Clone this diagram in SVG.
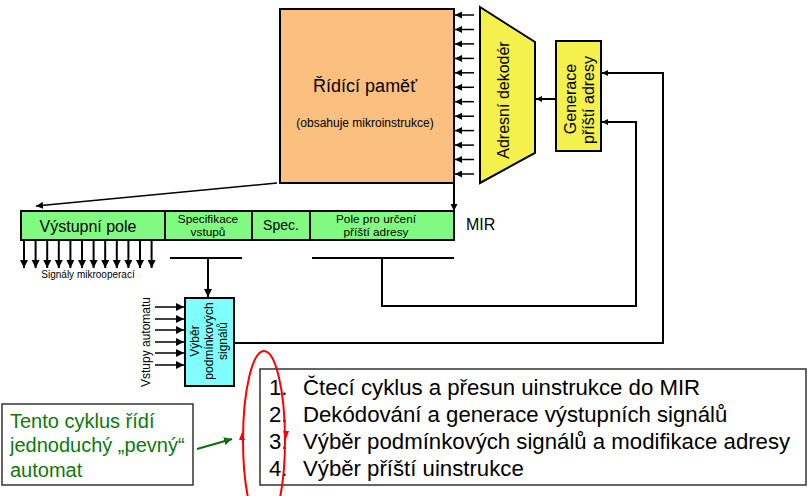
<svg xmlns="http://www.w3.org/2000/svg" width="812" height="496" viewBox="0 0 812 496">
<defs>
<style>
text{font-family:"Liberation Sans",Arial,sans-serif;fill:#000}
.box{stroke:#000;stroke-width:2}
.ln{stroke:#000;stroke-width:2;fill:none}
.th{stroke:#000;stroke-width:1.5;fill:none}
.list{font-size:22.2px}
.grn{font-size:20px;fill:#0a7a0a}
</style>
<marker id="ah" viewBox="0 0 10 10" refX="10" refY="5" markerWidth="7" markerHeight="7" markerUnits="userSpaceOnUse" orient="auto"><path d="M0,0L10,5L0,10z" fill="#000"/></marker>
<marker id="ahL" viewBox="0 0 10 10" refX="10" refY="5" markerWidth="8" markerHeight="8" markerUnits="userSpaceOnUse" orient="auto"><path d="M0,0L10,5L0,10z" fill="#000"/></marker>
<marker id="ahS" viewBox="0 0 10 10" refX="10" refY="5" markerWidth="6" markerHeight="6" markerUnits="userSpaceOnUse" orient="auto"><path d="M0,0L10,5L0,10z" fill="#000"/></marker>
<marker id="ahG" viewBox="0 0 10 10" refX="10" refY="5" markerWidth="8" markerHeight="8" markerUnits="userSpaceOnUse" orient="auto"><path d="M0,0L10,5L0,10z" fill="#0a6e0a"/></marker>
</defs>
<rect width="812" height="496" fill="#fff"/>

<g id="ridici-pamet">
<rect x="280" y="9" width="174" height="174" fill="#FBBF7F" class="box"/>
<text x="365" y="92" font-size="18" text-anchor="middle">Řídící paměť</text>
<text x="365" y="127" font-size="12" text-anchor="middle">(obsahuje mikroinstrukce)</text>
</g>

<g id="adresni-dekoder">
<polygon points="480,7 535,42 535,153 480,183" fill="#F4F04C" class="box"/>
<text transform="translate(509,100) rotate(-90)" font-size="16" text-anchor="middle">Adresní dekodér</text>
</g>

<g id="generace">
<rect x="556" y="41" width="45" height="110" fill="#F4F04C" class="box"/>
<text transform="translate(576,99) rotate(-90)" font-size="16" text-anchor="middle">Generace</text>
<text transform="translate(594,100) rotate(-90)" font-size="16" text-anchor="middle">příští adresy</text>
</g>

<g id="mir">
<rect x="21" y="211" width="144" height="29" fill="#80FA80" class="box"/>
<rect x="165" y="211" width="87" height="29" fill="#80FA80" class="box"/>
<rect x="252" y="211" width="58" height="29" fill="#80FA80" class="box"/>
<rect x="310" y="211" width="144" height="29" fill="#80FA80" class="box"/>
<text x="88" y="232" font-size="16" text-anchor="middle">Výstupní pole</text>
<text x="208" y="222.5" font-size="11.8" text-anchor="middle">Specifikace</text>
<text x="208" y="235.5" font-size="11.8" text-anchor="middle">vstupů</text>
<text x="281" y="230" font-size="14" text-anchor="middle">Spec.</text>
<text x="376" y="222.5" font-size="11.8" text-anchor="middle">Pole pro určení</text>
<text x="376" y="235.5" font-size="11.8" text-anchor="middle">příští adresy</text>
<text x="466" y="230" font-size="16">MIR</text>
<text x="88" y="278" font-size="10" text-anchor="middle">Signály mikrooperací</text>
</g>

<g id="vyber">
<rect x="185" y="298" width="49" height="88" fill="#80FFFF" class="box"/>
<text transform="translate(199,341) rotate(-90)" font-size="12" text-anchor="middle">Výběr</text>
<text transform="translate(213,341) rotate(-90)" font-size="12" text-anchor="middle">podmínkových</text>
<text transform="translate(227,341) rotate(-90)" font-size="12" text-anchor="middle">signálů</text>
<text transform="translate(150,342) rotate(-90)" font-size="12" text-anchor="middle">Vstupy automatu</text>
</g>

<g id="seznam">
<rect x="260" y="369" width="546" height="116" fill="#fff" stroke="#333" stroke-width="1.5"/>
<text class="list" x="269" y="395">1.</text>
<text class="list" x="303" y="395">Čtecí cyklus a přesun uinstrukce do MIR</text>
<text class="list" x="269" y="422">2.</text>
<text class="list" x="303" y="422">Dekódování a generace výstupních signálů</text>
<text class="list" x="269" y="449">3.</text>
<text class="list" x="303" y="449">Výběr podmínkových signálů a modifikace adresy</text>
<text class="list" x="269" y="476">4.</text>
<text class="list" x="303" y="476">Výběr příští uinstrukce</text>
</g>

<g id="poznamka">
<rect x="2" y="404" width="191" height="81" fill="#fff" stroke="#333" stroke-width="1.5"/>
<text class="grn" x="10" y="427.5">Tento cyklus řídí</text>
<text class="grn" x="10" y="452">jednoduchý „pevný“</text>
<text class="grn" x="10" y="476.5">automat</text>
</g>

<g id="cyklus">
<ellipse cx="264" cy="440" rx="21" ry="89" fill="none" stroke="#f00" stroke-width="2"/>
<polygon points="242,432 239,440 245,440" fill="#f00"/>
<polygon points="286,439 283,431 289,431" fill="#f00"/>
</g>

<g id="connectors">
<g class="th" marker-end="url(#ah)">
<line x1="474" y1="15" x2="455" y2="15"/>
<line x1="474" y1="29.5" x2="455" y2="29.5"/>
<line x1="474" y1="43.9" x2="455" y2="43.9"/>
<line x1="474" y1="58.4" x2="455" y2="58.4"/>
<line x1="474" y1="72.8" x2="455" y2="72.8"/>
<line x1="474" y1="87.3" x2="455" y2="87.3"/>
<line x1="474" y1="101.7" x2="455" y2="101.7"/>
<line x1="474" y1="116.2" x2="455" y2="116.2"/>
<line x1="474" y1="130.6" x2="455" y2="130.6"/>
<line x1="474" y1="145.1" x2="455" y2="145.1"/>
<line x1="474" y1="159.5" x2="455" y2="159.5"/>
<line x1="474" y1="174" x2="455" y2="174"/>
</g>
<line class="ln" x1="556" y1="99" x2="536" y2="99" marker-end="url(#ahS)"/>
<line class="th" x1="277" y1="183" x2="36" y2="206" marker-end="url(#ah)"/>
<line class="ln" x1="454" y1="183" x2="454" y2="211" marker-end="url(#ah)"/>
<g class="ln" marker-end="url(#ahL)">
<line x1="24" y1="240" x2="24" y2="268"/>
<line x1="35.6" y1="240" x2="35.6" y2="268"/>
<line x1="47.2" y1="240" x2="47.2" y2="268"/>
<line x1="58.8" y1="240" x2="58.8" y2="268"/>
<line x1="70.4" y1="240" x2="70.4" y2="268"/>
<line x1="82" y1="240" x2="82" y2="268"/>
<line x1="93.6" y1="240" x2="93.6" y2="268"/>
<line x1="105.2" y1="240" x2="105.2" y2="268"/>
<line x1="116.8" y1="240" x2="116.8" y2="268"/>
<line x1="128.4" y1="240" x2="128.4" y2="268"/>
<line x1="140" y1="240" x2="140" y2="268"/>
<line x1="151.6" y1="240" x2="151.6" y2="268"/>
</g>
<line class="ln" x1="170" y1="258" x2="242" y2="258"/>
<line class="ln" x1="208" y1="258" x2="208" y2="297" marker-end="url(#ahL)"/>
<line class="ln" x1="312" y1="258" x2="454" y2="258"/>
<path class="ln" d="M382,258V306H636V122H602" marker-end="url(#ahS)"/>
<path class="ln" d="M234,343H663V73H602" marker-end="url(#ahS)"/>
<g class="th" marker-end="url(#ahL)">
<line x1="155" y1="307" x2="184" y2="307"/>
<line x1="155" y1="319" x2="184" y2="319"/>
<line x1="155" y1="330" x2="184" y2="330"/>
<line x1="155" y1="342" x2="184" y2="342"/>
<line x1="155" y1="353" x2="184" y2="353"/>
<line x1="155" y1="365" x2="184" y2="365"/>
</g>
<line x1="197" y1="449" x2="232" y2="439" stroke="#0a6e0a" stroke-width="2" marker-end="url(#ahG)"/>
</g>
</svg>
